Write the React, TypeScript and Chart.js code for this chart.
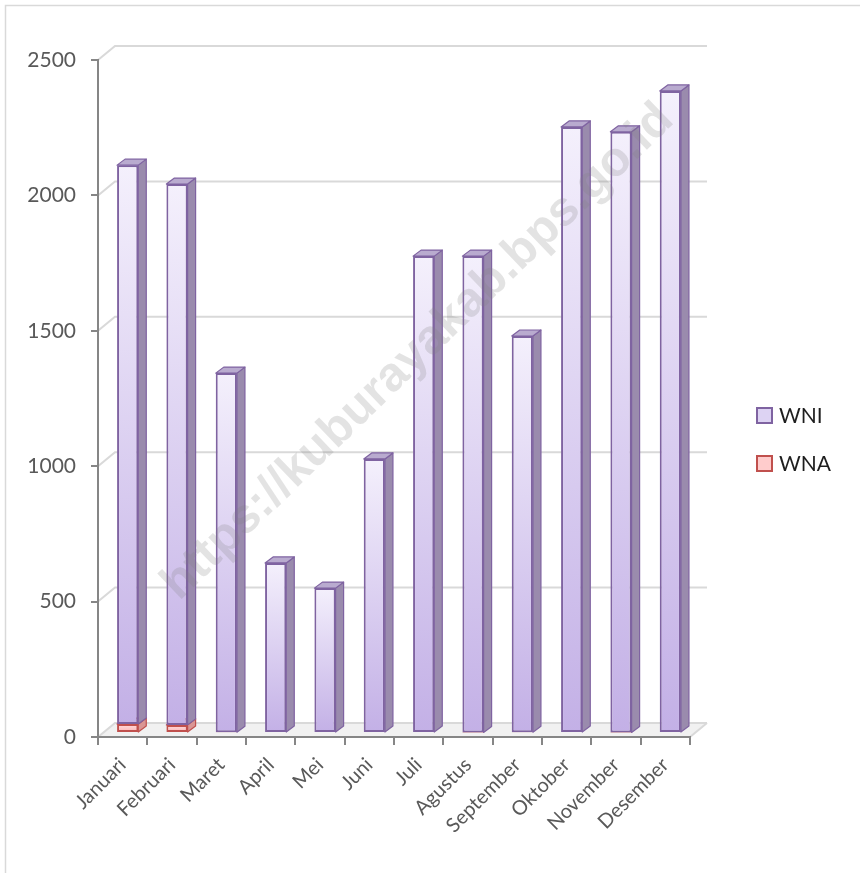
import React, { useEffect, useRef } from 'react';
import { Chart, registerables } from 'chart.js';

Chart.register(...registerables);

const categories = ['Januari', 'Februari', 'Maret', 'April', 'Mei', 'Juni', 'Juli', 'Agustus', 'September', 'Oktober', 'November', 'Desember'];
const wniValues = [2064, 1997, 1326, 628, 535, 1012, 1761, 1759, 1463, 2238, 2218, 2371];
const wnaValues = [33, 30, 3, 0, 0, 0, 0, 2, 3, 0, 2, 0];
const seriesNames = ['WNI', 'WNA'];
const yMin = 0;
const yMax = 2500;
const yStep = 500;
const watermarkText = 'https://kuburayakab.bps.go.id';

const FONT = 'Lato, "Open Sans", sans-serif';
const WALL_DX = 17;
const WALL_DY = -14;
const BAR_DX = 8;
const BAR_DY = -6;
const SHIFT_X = 5;
const SHIFT_Y = -4;

const styles = [
  { top: '#f4f0fc', bottom: '#c3b0e6', border: '#7f63a1', side: '#9a8bad', cap: '#b9abcf', legend: '#ddd3f3' },
  { top: '#ffdede', bottom: '#ffb0b0', border: '#c0504d', side: '#d99694', cap: '#e6b9b8', legend: '#ffcccc' },
];

function gradientFor(seriesIdx: number) {
  return (c: any) => {
    const chart = c.chart;
    const y = chart.scales && chart.scales.y;
    const st = styles[seriesIdx];
    if (!y || c.type !== 'data' || c.dataIndex == null) return st.bottom;
    const i = c.dataIndex;
    const lo = seriesIdx === 1 ? 0 : wnaValues[i];
    const hi = seriesIdx === 1 ? wnaValues[i] : wnaValues[i] + wniValues[i];
    const pTop = y.getPixelForValue(hi);
    const pBot = y.getPixelForValue(lo);
    if (!isFinite(pTop) || !isFinite(pBot) || Math.abs(pBot - pTop) < 1) return st.bottom;
    const g = chart.ctx.createLinearGradient(0, pTop, 0, pBot);
    g.addColorStop(0, st.top);
    g.addColorStop(1, st.bottom);
    return g;
  };
}

const frame3d = {
  id: 'frame3d',
  beforeDraw(chart: any) {
    const { ctx, chartArea: a, scales } = chart;
    const y = scales.y;
    ctx.save();
    ctx.fillStyle = '#ffffff';
    ctx.fillRect(0, 0, chart.width, chart.height);
    ctx.strokeStyle = '#d9d9d9';
    ctx.lineWidth = 1.5;
    ctx.beginPath();
    ctx.moveTo(5.5, chart.height + 10);
    ctx.lineTo(5.5, 5.5);
    ctx.lineTo(chart.width + 10, 5.5);
    ctx.stroke();
    const b = a.bottom;
    ctx.fillStyle = '#f1f1f1';
    ctx.beginPath();
    ctx.moveTo(a.left, b);
    ctx.lineTo(a.left + WALL_DX, b + WALL_DY);
    ctx.lineTo(a.right + WALL_DX, b + WALL_DY);
    ctx.lineTo(a.right, b);
    ctx.closePath();
    ctx.fill();
    ctx.strokeStyle = '#d9d9d9';
    ctx.lineWidth = 2;
    y.ticks.forEach((t: any) => {
      const py = y.getPixelForValue(t.value);
      ctx.beginPath();
      ctx.moveTo(a.left, py);
      ctx.lineTo(a.left + WALL_DX, py + WALL_DY);
      ctx.lineTo(a.right + WALL_DX, py + WALL_DY);
      ctx.stroke();
    });
    ctx.beginPath();
    ctx.moveTo(a.right, b);
    ctx.lineTo(a.right + WALL_DX, b + WALL_DY);
    ctx.stroke();
    ctx.restore();
  },
  beforeDatasetsDraw(chart: any) {
    const { ctx } = chart;
    ctx.save();
    ctx.translate(SHIFT_X, SHIFT_Y);
    const order = [1, 0];
    order.forEach((d) => {
      const meta = chart.getDatasetMeta(d);
      const st = styles[d];
      meta.data.forEach((el: any) => {
        const p = el.getProps(['x', 'y', 'base', 'width'], true);
        const h = p.base - p.y;
        if (h <= 0.2) return;
        const left = p.x - p.width / 2;
        const right = p.x + p.width / 2;
        ctx.lineWidth = 1.2;
        ctx.strokeStyle = st.border;
        ctx.lineJoin = 'round';
        ctx.fillStyle = st.side;
        ctx.beginPath();
        ctx.moveTo(right, p.y);
        ctx.lineTo(right + BAR_DX, p.y + BAR_DY);
        ctx.lineTo(right + BAR_DX, p.base + BAR_DY);
        ctx.lineTo(right, p.base);
        ctx.closePath();
        ctx.fill();
        ctx.stroke();
        ctx.fillStyle = st.cap;
        ctx.beginPath();
        ctx.moveTo(left, p.y);
        ctx.lineTo(left + BAR_DX, p.y + BAR_DY);
        ctx.lineTo(right + BAR_DX, p.y + BAR_DY);
        ctx.lineTo(right, p.y);
        ctx.closePath();
        ctx.fill();
        ctx.stroke();
      });
    });
  },
  afterDatasetsDraw(chart: any) {
    chart.ctx.restore();
  },
  afterDraw(chart: any) {
    const { ctx } = chart;
    ctx.save();
    const legendX = 757;
    const legendYs = [416, 464];
    chart.data.datasets.forEach((ds: any, i: number) => {
      const st = styles[i];
      const cy = legendYs[i];
      ctx.fillStyle = st.legend;
      ctx.fillRect(legendX, cy - 8, 15, 15);
      ctx.strokeStyle = st.border;
      ctx.lineWidth = 2;
      ctx.strokeRect(legendX, cy - 8, 15, 15);
      ctx.fillStyle = '#1e1e1e';
      ctx.font = `21px ${FONT}`;
      ctx.textAlign = 'left';
      ctx.textBaseline = 'middle';
      ctx.fillText(ds.label, legendX + 22, cy);
    });
    ctx.restore();
    ctx.save();
    ctx.translate(418, 352);
    ctx.rotate((-44 * Math.PI) / 180);
    ctx.font = 'bold 40px "Liberation Sans", Arial, sans-serif';
    const w = ctx.measureText(watermarkText).width;
    const size = (40 * 690) / w;
    ctx.font = `bold ${size}px "Liberation Sans", Arial, sans-serif`;
    ctx.fillStyle = 'rgba(128,128,128,0.22)';
    ctx.textAlign = 'center';
    ctx.textBaseline = 'middle';
    ctx.fillText(watermarkText, 0, 0);
    ctx.restore();
  },
};

export default function App() {
  const ref = useRef<HTMLCanvasElement | null>(null);
  useEffect(() => {
    if (!ref.current) return;
    const chart = new Chart(ref.current, {
      type: 'bar',
      data: {
        labels: categories,
        datasets: [
          {
            label: seriesNames[0],
            data: wniValues,
            backgroundColor: gradientFor(0),
            borderColor: styles[0].border,
            borderWidth: 2,
            borderSkipped: false,
            categoryPercentage: 1,
            barPercentage: 0.43,
            stack: 's',
            order: 1,
          },
          {
            label: seriesNames[1],
            data: wnaValues,
            backgroundColor: gradientFor(1),
            borderColor: styles[1].border,
            borderWidth: 2,
            borderSkipped: false,
            categoryPercentage: 1,
            barPercentage: 0.43,
            stack: 's',
            order: 0,
          },
        ] as any,
      },
      options: {
        responsive: false,
        animation: false,
        layout: { padding: { left: 0, right: 170, top: 60, bottom: 0 } },
        plugins: {
          legend: { display: false },
          tooltip: { enabled: false },
        },
        scales: {
          x: {
            stacked: true,
            offset: true,
            border: { display: true, color: '#868686', width: 2 },
            grid: { display: true, drawOnChartArea: false, drawTicks: true, tickLength: 8, color: '#868686', lineWidth: 2, offset: true },
            ticks: {
              autoSkip: false,
              minRotation: 45,
              maxRotation: 45,
              color: '#595959',
              font: { family: FONT, size: 20 },
              padding: 8,
            },
            afterFit: (scale: any) => {
              scale.height = 136;
            },
          },
          y: {
            stacked: true,
            min: yMin,
            max: yMax,
            border: { display: true, color: '#868686', width: 2 },
            grid: { display: true, drawOnChartArea: false, drawTicks: true, tickLength: 7, color: '#868686', lineWidth: 2 },
            ticks: {
              stepSize: yStep,
              color: '#595959',
              font: { family: FONT, size: 21 },
              padding: 15,
              callback: (v: any) => String(v),
            },
            afterFit: (scale: any) => {
              scale.width = 98;
            },
          },
        },
      } as any,
      plugins: [frame3d],
    });
    return () => chart.destroy();
  }, []);
  return (
    <div style={{ position: 'absolute', left: 0, top: 0, width: 860, height: 873 }}>
      <canvas ref={ref} width={860} height={873} style={{ width: 860, height: 873, display: 'block' }} />
    </div>
  );
}
